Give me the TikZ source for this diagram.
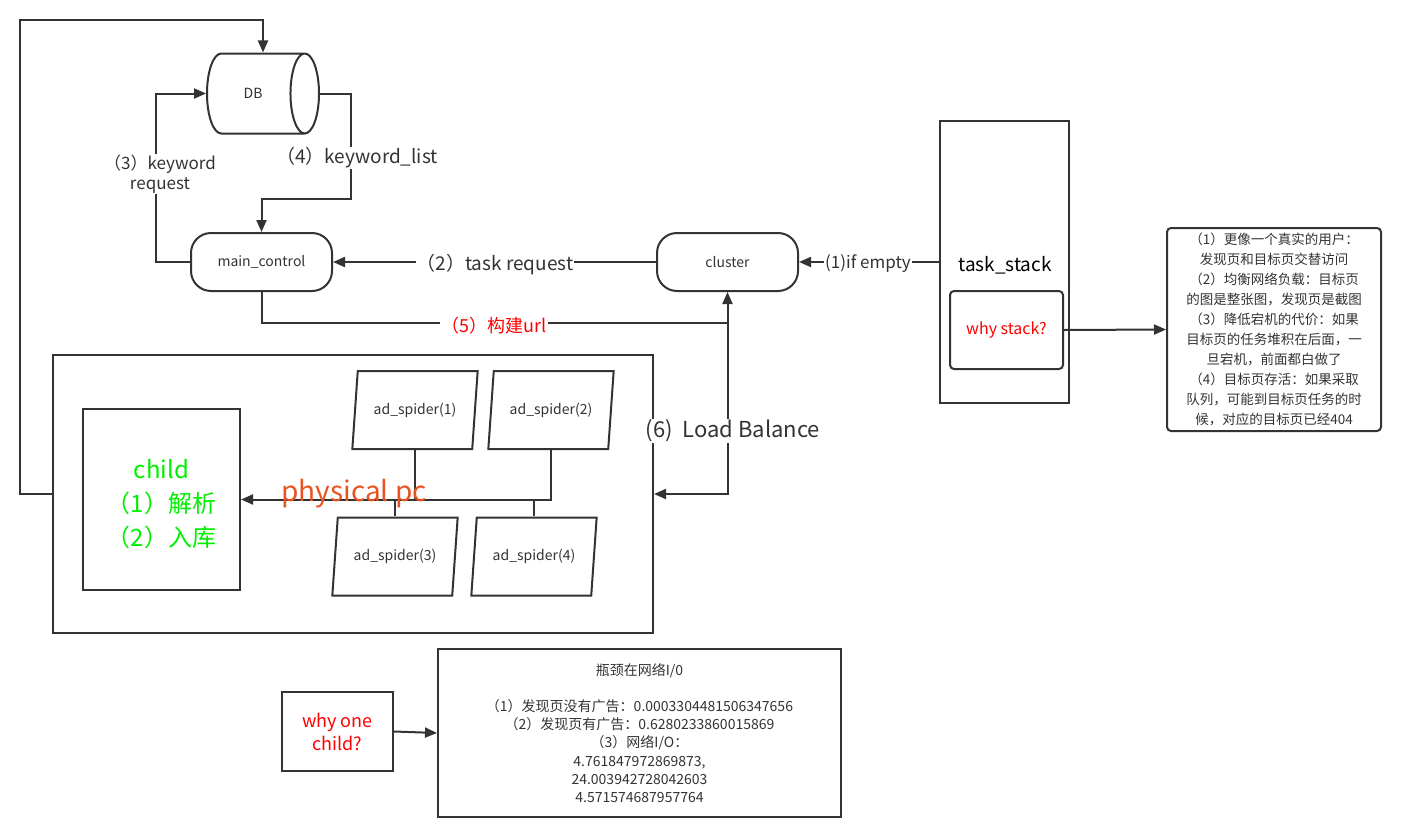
\documentclass[tikz,border=0pt]{standalone}
\usepackage{fontspec}
\setmainfont{Noto Sans CJK SC}
\usetikzlibrary{shapes.geometric,arrows.meta,calc}
\definecolor{linegray}{HTML}{333333}
\definecolor{childgreen}{HTML}{00F000}
\definecolor{pcorange}{HTML}{E8531F}
\tikzset{->, % connectors are directed
>={Triangle[length=12pt,width=10pt]}, % filled heads
box/.style={draw=linegray, line width=2pt, inner sep=2pt, align=center, text=linegray},
pill/.style={box, rounded corners=20pt, minimum width=141, minimum height=58, font=\fontsize{14}{17}\selectfont},
db/.style={box, cylinder, shape aspect=2, minimum width=80, minimum height=112, font=\fontsize{14}{17}\selectfont},
spider/.style={box, trapezium, trapezium left angle=75, trapezium right angle=105, trapezium stretches=true, minimum width=126, minimum height=78, inner sep=0pt, font=\fontsize{14}{17}\selectfont},
lbl/.style={fill=white, inner sep=1pt, text=linegray, align=center, font=\fontsize{19}{22}\selectfont},
note/.style={box, font=\fontsize{13.5}{20}\selectfont},
}
\begin{document}
\begin{tikzpicture}[x=1pt,y=-1pt,line width=2pt,color=linegray]
\useasboundingbox (0,0) rectangle (1403,835);
% database and controllers
\node[db, anchor=west] (db) at (206,93.5) {DB};
\coordinate (dbmid) at ($(db.west)!0.5!(db.east)$);
\coordinate (dbtop) at (dbmid |- db.north);
\node[pill] (main) at (261.5,262) {main\_control};
\node[pill] (cluster) at (727.5,262) {cluster};
% task stack and its note
\node[box, minimum width=129, minimum height=282] (stack) at (1004.5,262) {};
\node[text=black, font=\fontsize{19}{22}\selectfont] (stacklbl) at (1005,265) {task\_stack};
\node[box, rounded corners=4pt, minimum width=113, minimum height=78, text=red, font=\fontsize{16}{19}\selectfont] (why) at (1006.5,330) {why stack?};
\node[note, rounded corners=4pt, minimum width=214, minimum height=203] (note) at (1274,329.5) {（1）更像一个真实的用户：\\发现页和目标页交替访问\\（2）均衡网络负载：目标页\\的图是整张图，发现页是截图\\（3）降低宕机的代价：如果\\目标页的任务堆积在后面，一\\旦宕机，前面都白做了\\（4）目标页存活：如果采取\\队列，可能到目标页任务的时\\候，对应的目标页已经404};
% physical machine
\node[box, minimum width=600, minimum height=278] (pc) at (353,494) {};
\node[box, minimum width=157, minimum height=181, text=childgreen, font=\fontsize{24}{34}\selectfont] (child) at (161.5,499.5) {\\[-6pt]child\\（1）解析\\（2）入库};
\node[spider] (sp1) at (415,410) {ad\_spider(1)};
\node[spider] (sp2) at (551,410) {ad\_spider(2)};
\node[spider] (sp3) at (395,556.5) {ad\_spider(3)};
\node[spider] (sp4) at (534,556.5) {ad\_spider(4)};
\coordinate (hub) at (550,499.5);
% bottleneck note
\node[box, minimum width=111, minimum height=79, text=red, font=\fontsize{18}{23}\selectfont] (whyone) at (337.5,731.5) {why one\\child?};
\node[box, minimum width=403, minimum height=168, font=\fontsize{14}{18.2}\selectfont] (io) at (639.5,733) {瓶颈在网络I/0\\[18.2pt]（1）发现页没有广告：0.0003304481506347656\\（2）发现页有广告：0.6280233860015869\\（3）网络I/O：\\4.761847972869873,\\24.003942728042603\\4.571574687957764};
% connectors
\draw (pc.west) -| (20,20) -| (dbtop);
\draw (main.west) -- ++(-34,0) |- (db.west);
\draw (db.east) -| (351,199) -| (main.north);
\draw (cluster.west) -- (main.east);
\draw (stack.west) -- (cluster.east);
\coordinate (lbjoin) at (727.5,323);
\draw (main.south) |- (lbjoin) -- (cluster.south);
\draw (lbjoin) |- (pc.east);
\draw (why.east) -- (note.west);
\draw (sp2.south) |- (child.east);
\draw[-] (sp1.south) -- (sp1.south |- hub);
\draw[-] (sp3.north) -- (sp3.north |- hub);
\draw[-] (sp4.north) -- (sp4.north |- hub);
\draw (whyone.east) -- (io.west);
% connector labels
\node[lbl, font=\fontsize{17}{20}\selectfont] (kwreq) at (160,174) {（3）keyword\\request};
\node[lbl] (kwlist) at (357,158) {（4）keyword\_list};
\node[lbl] (taskreq) at (495,265) {（2）task request};
\node[lbl, font=\fontsize{17}{20}\selectfont] (ifempty) at (868,264) {(1)if empty};
\node[lbl, text=red, font=\fontsize{18}{21}\selectfont] (buildurl) at (494,326) {（5）构建url};
\node[lbl, font=\fontsize{22}{26}\selectfont] (loadbal) at (733,431) {(6)\ \ Load Balance};
\node[text=pcorange, font=\fontsize{28}{32}\selectfont] (pclbl) at (354,494) {physical pc};
\end{tikzpicture}
\end{document}
